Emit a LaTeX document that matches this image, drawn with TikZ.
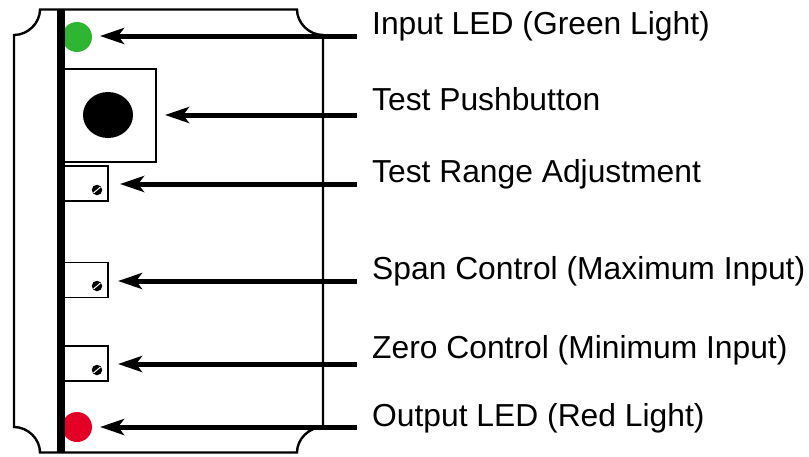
\documentclass[tikz,border=0pt]{standalone}
\usepackage{fontspec}
\setmainfont{Liberation Sans}
\usetikzlibrary{arrows.meta,shapes.geometric}
\tikzset{
  callout/.style={line width=5pt,-{Stealth[length=24pt,width=16pt,inset=6pt]}},
  lbl/.style={anchor=base west,inner sep=0pt,font=\fontsize{31.8}{36}\selectfont},
  small box/.style={draw,line width=1.5pt,fill=white,minimum width=44pt,minimum height=35pt,inner sep=0pt},
  screw/.style={circle,fill=black,minimum size=10.5pt,inner sep=0pt},
  led/.style={circle,minimum size=30pt,inner sep=0pt},
}
\begin{document}
\begin{tikzpicture}[x=1pt,y=-1pt]
\useasboundingbox (0,0) rectangle (809,456);
% housing
\draw[line width=2.4pt] (14,35) .. controls (28,35) and (40,23) .. (40,9.5) -- (297,9.5)
  .. controls (297,23) and (309,35) .. (323,35) -- (323,427)
  .. controls (309,427) and (297,439) .. (297,452.5) -- (40,452.5)
  .. controls (40,439) and (28,427) .. (14,427) -- cycle;
% LEDs
\node[led,fill={rgb,255:red,46;green,182;blue,50}] (green) at (77,37) {};
\node[led,fill={rgb,255:red,227;green,0;blue,36}] (red) at (77,427) {};
% bar
\fill (57,9) rectangle (65,453);
% pushbutton
\node[draw,line width=2pt,minimum width=92pt,minimum height=93pt,inner sep=0pt] (push) at (110,115.5) {};
\node[ellipse,fill=black,minimum width=50pt,minimum height=46pt,inner sep=0pt] (button) at (108,115) {};
% adjusters
\node[small box] (range) at (86,183.5) {};
\node[small box] (span) at (86,280) {};
\node[small box] (zero) at (86,363.5) {};
\foreach \n/\y in {a/190,b/286,c/370}{
  \node[screw] (s\n) at (97,\y) {};
  \draw[white,line width=1pt] (93.5,\y+3) -- (100.5,\y-3);
}
% labels
\node[lbl] (t1) at (372,34) {Input LED (Green Light)};
\node[lbl] (t2) at (372,110) {Test Pushbutton};
\node[lbl] (t3) at (372,182.5) {Test Range Adjustment};
\node[lbl] (t4) at (372,279) {Span Control (Maximum Input)};
\node[lbl] (t5) at (372,358.7) {Zero Control (Minimum Input)};
\node[lbl] (t6) at (372,426) {Output LED (Red Light)};
% arrow ends
\coordinate (a1) at (357,36); \coordinate (b1) at (100,36);
\coordinate (a2) at (357,115); \coordinate (b2) at (165,115);
\coordinate (a3) at (357,184); \coordinate (b3) at (120,184);
\coordinate (a4) at (357,281); \coordinate (b4) at (118,281);
\coordinate (a5) at (357,364); \coordinate (b5) at (118,364);
\coordinate (a6) at (357,427); \coordinate (b6) at (100,427);
\foreach \i in {1,...,6}{\draw[callout] (a\i) -- (b\i);}
\end{tikzpicture}
\end{document}
